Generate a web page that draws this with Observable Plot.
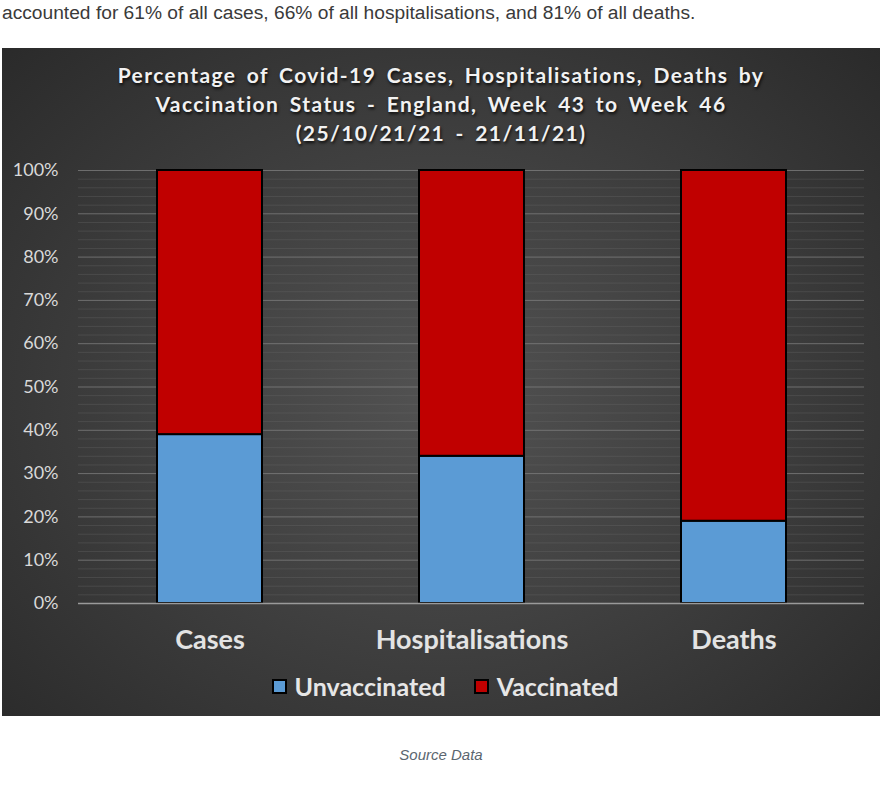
<!DOCTYPE html>
<html>
<head>
<meta charset="utf-8">
<script src="https://cdn.jsdelivr.net/npm/d3@7"></script>
<script src="https://cdn.jsdelivr.net/npm/@observablehq/plot@0.6"></script>
<style>
  html, body { margin: 0; padding: 0; background: #ffffff; width: 888px; height: 787px; overflow: hidden; }
  #intro { position: absolute; left: 2px; top: 2px; font-family: "Liberation Sans", Arial, sans-serif; font-size: 19.2px; color: #3a3a3a; white-space: nowrap; }
  #panel { position: absolute; left: 2px; top: 48px; width: 878px; height: 668px;
    background: radial-gradient(ellipse 70% 75% at 50% 52%, #525252 0%, #414141 45%, #2a2a2a 100%); overflow: hidden; }
  #title { position: absolute; left: 0; top: 12px; width: 878px; text-align: center; font-family: Lato, "Open Sans", sans-serif;
    font-weight: bold; font-size: 21px; line-height: 29px; color: #f2f2f2; letter-spacing: 1.4px; word-spacing: 4px;
    text-shadow: 1px 2px 3px rgba(0,0,0,0.8); }
  #chart { position: absolute; left: 0; top: 102px; }
  #legend { position: absolute; left: 4px; top: 623px; width: 878px; display: flex; justify-content: center; gap: 28px;
    font-family: Lato, "Open Sans", sans-serif; font-weight: bold; font-size: 25px; color: #e6e6e6; }
  #legend span.item { display: flex; align-items: center; gap: 8px; }
  #legend span.sw { display: inline-block; width: 11px; height: 11px; border: 2px solid #000; }
  #caption { position: absolute; left: 0; top: 746px; width: 882px; text-align: center; font-family: "Liberation Sans", Arial, sans-serif;
    font-style: italic; font-size: 15px; color: #5b6670; }
</style>
</head>
<body>
<div id="intro">accounted for 61% of all cases, 66% of all hospitalisations, and 81% of all deaths.</div>
<div id="panel">
  <div id="title">Percentage of Covid-19 Cases, Hospitalisations, Deaths by<br>Vaccination Status - England, Week 43 to Week 46<br>(25/10/21/21 - 21/11/21)</div>
  <div id="chart"></div>
  <div id="legend"></div>
</div>
<div id="caption">Source Data</div>
<script>
const categories = ["Cases", "Hospitalisations", "Deaths"];
const statuses = ["Unvaccinated", "Vaccinated"];
const unvaccinated = [39, 34, 19];
const vaccinated = [61, 66, 81];
const yTicks = [0, 10, 20, 30, 40, 50, 60, 70, 80, 90, 100];
const yMinorTicks = [2, 4, 6, 8, 12, 14, 16, 18, 22, 24, 26, 28, 32, 34, 36, 38, 42, 44, 46, 48,
  52, 54, 56, 58, 62, 64, 66, 68, 72, 74, 76, 78, 82, 84, 86, 88, 92, 94, 96, 98];
const colors = ["#5b9bd5", "#c00000"];

const rows = [];
categories.forEach((c, i) => {
  rows.push({category: c, status: statuses[0], value: unvaccinated[i]});
  rows.push({category: c, status: statuses[1], value: vaccinated[i]});
});

const chart = Plot.plot({
  width: 878,
  height: 510,
  marginTop: 20,
  marginBottom: 57,
  marginLeft: 76,
  marginRight: 16,
  style: {background: "transparent", color: "#d9d9d9", fontFamily: "Lato, 'Open Sans', sans-serif", overflow: "visible"},
  x: {domain: categories, paddingInner: 0.6, paddingOuter: 0.3, label: null},
  y: {domain: [0, 100], label: null},
  color: {domain: statuses, range: colors},
  marks: [
    Plot.ruleY(yMinorTicks, {stroke: "#6a6a6a", strokeOpacity: 0.35, strokeWidth: 1}),
    Plot.ruleY(yTicks.filter(d => d > 0), {stroke: "#808080", strokeOpacity: 0.75, strokeWidth: 1}),
    Plot.axisY({ticks: yTicks, tickFormat: d => d + "%", tickSize: 0, tickPadding: 20, fontSize: 18, fill: "#d9d9d9", label: null}),
    Plot.axisX({tickSize: 0, tickPadding: 26, fontSize: 27, fontWeight: "bold", fill: "#e3e3e3", label: null}),
    Plot.barY(rows, {x: "category", y: "value", fill: "status", stroke: "#000", strokeWidth: 2}),
    Plot.ruleY([0], {stroke: "#9a9a9a", strokeWidth: 1.5})
  ]
});
document.getElementById("chart").appendChild(chart);

const legend = document.getElementById("legend");
statuses.forEach((s, i) => {
  const item = document.createElement("span");
  item.className = "item";
  const sw = document.createElement("span");
  sw.className = "sw";
  sw.style.background = colors[i];
  item.appendChild(sw);
  item.appendChild(document.createTextNode(s));
  legend.appendChild(item);
});
</script>
</body>
</html>
